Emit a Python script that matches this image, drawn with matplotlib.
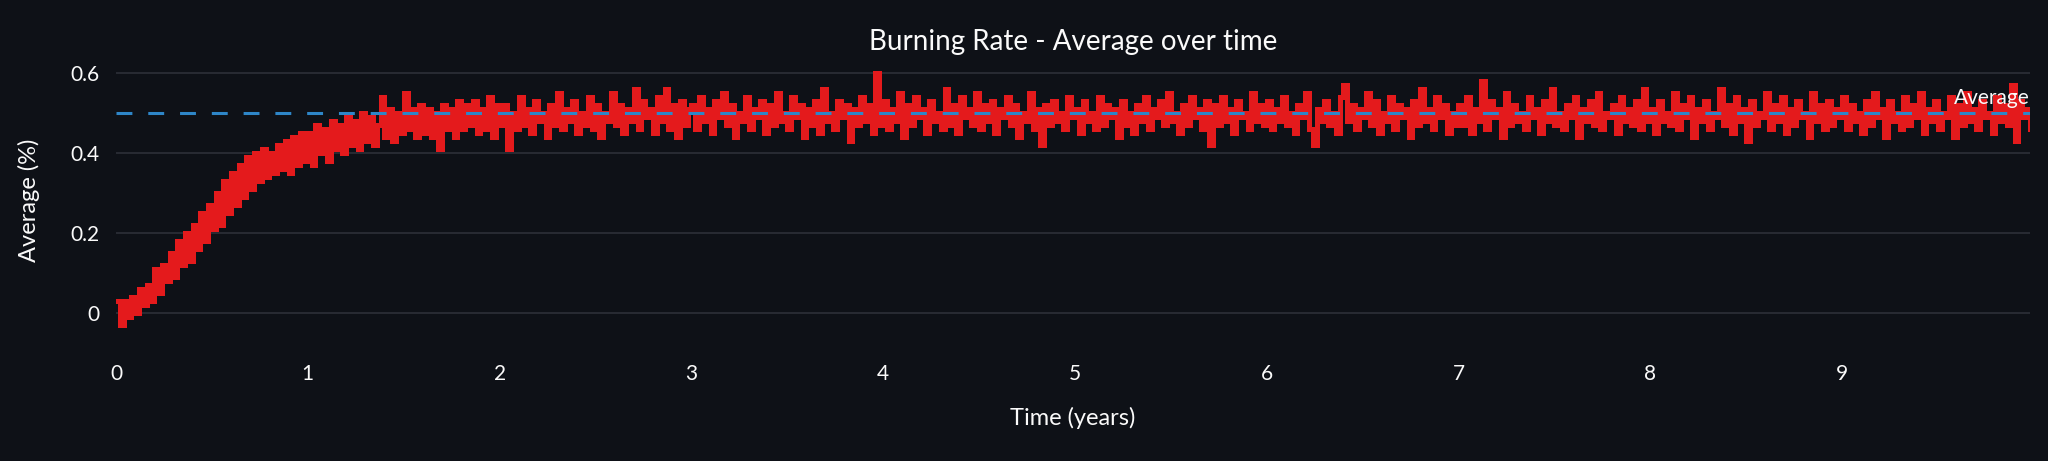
import numpy as np
import matplotlib
matplotlib.use("Agg")
import matplotlib.pyplot as plt

# ---------------------------------------------------------------------
# data: burning-rate average, one reading every 0.02 years
# ---------------------------------------------------------------------
STEP = 0.02

year0 = [0.03, -0.03, 0.03, -0.01, 0.04, 0.00, 0.06, 0.02, 0.07, 0.03,
         0.11, 0.05, 0.12, 0.08, 0.15, 0.09, 0.18, 0.12, 0.20, 0.13,
         0.22, 0.16, 0.25, 0.18, 0.27, 0.21, 0.30, 0.22, 0.33, 0.25,
         0.35, 0.27, 0.37, 0.29, 0.39, 0.31, 0.40, 0.33, 0.41, 0.34,
         0.40, 0.35, 0.42, 0.36, 0.43, 0.35, 0.44, 0.37, 0.45, 0.38]
year1 = [0.45, 0.37, 0.47, 0.40, 0.46, 0.38, 0.48, 0.41, 0.47, 0.40,
         0.49, 0.42, 0.48, 0.41, 0.50, 0.43, 0.49, 0.42, 0.47, 0.54,
         0.44, 0.51, 0.43, 0.50, 0.45, 0.55, 0.46, 0.51, 0.44, 0.52,
         0.45, 0.51, 0.44, 0.50, 0.41, 0.52, 0.46, 0.51, 0.44, 0.53,
         0.46, 0.52, 0.47, 0.53, 0.45, 0.51, 0.46, 0.54, 0.44, 0.52]
year2 = [0.47, 0.52, 0.41, 0.50, 0.46, 0.54, 0.47, 0.51, 0.45, 0.53,
         0.48, 0.50, 0.44, 0.52, 0.47, 0.55, 0.46, 0.51, 0.48, 0.53,
         0.45, 0.50, 0.47, 0.54, 0.46, 0.52, 0.44, 0.50, 0.48, 0.55,
         0.47, 0.52, 0.45, 0.51, 0.48, 0.56, 0.46, 0.53, 0.49, 0.51,
         0.45, 0.54, 0.48, 0.56, 0.46, 0.52, 0.44, 0.53, 0.47, 0.51]
year3 = [0.52, 0.46, 0.54, 0.48, 0.51, 0.45, 0.53, 0.49, 0.55, 0.47,
         0.52, 0.44, 0.50, 0.48, 0.54, 0.46, 0.51, 0.49, 0.53, 0.45,
         0.52, 0.47, 0.55, 0.48, 0.50, 0.46, 0.54, 0.49, 0.52, 0.44,
         0.51, 0.47, 0.53, 0.45, 0.56, 0.48, 0.50, 0.46, 0.53, 0.49,
         0.52, 0.43, 0.51, 0.47, 0.54, 0.48, 0.52, 0.45, 0.60, 0.47]
year4 = [0.53, 0.46, 0.51, 0.48, 0.55, 0.44, 0.52, 0.47, 0.54, 0.49,
         0.51, 0.45, 0.53, 0.48, 0.50, 0.46, 0.56, 0.47, 0.52, 0.45,
         0.54, 0.49, 0.51, 0.47, 0.55, 0.46, 0.52, 0.48, 0.53, 0.45,
         0.51, 0.49, 0.54, 0.47, 0.52, 0.44, 0.50, 0.48, 0.55, 0.46,
         0.51, 0.42, 0.52, 0.47, 0.53, 0.48, 0.50, 0.46, 0.54, 0.49]
year5 = [0.51, 0.45, 0.53, 0.48, 0.50, 0.46, 0.54, 0.47, 0.52, 0.49,
         0.51, 0.44, 0.53, 0.47, 0.50, 0.45, 0.52, 0.48, 0.54, 0.46,
         0.51, 0.49, 0.53, 0.47, 0.55, 0.48, 0.50, 0.45, 0.52, 0.47,
         0.54, 0.49, 0.51, 0.46, 0.53, 0.42, 0.52, 0.47, 0.54, 0.48,
         0.51, 0.45, 0.53, 0.49, 0.50, 0.46, 0.55, 0.48, 0.52, 0.47]
year6 = [0.53, 0.46, 0.51, 0.48, 0.54, 0.47, 0.50, 0.45, 0.52, 0.49,
         0.55, 0.46, 0.42, 0.51, 0.48, 0.53, 0.47, 0.50, 0.45, 0.54,
         0.57, 0.48, 0.52, 0.46, 0.51, 0.49, 0.55, 0.47, 0.53, 0.45,
         0.50, 0.48, 0.54, 0.46, 0.52, 0.49, 0.51, 0.44, 0.53, 0.47,
         0.56, 0.48, 0.51, 0.46, 0.54, 0.49, 0.52, 0.45, 0.50, 0.47]
year7 = [0.52, 0.47, 0.54, 0.45, 0.51, 0.48, 0.58, 0.46, 0.53, 0.49,
         0.51, 0.44, 0.55, 0.47, 0.52, 0.48, 0.50, 0.46, 0.54, 0.49,
         0.51, 0.45, 0.53, 0.48, 0.56, 0.47, 0.50, 0.46, 0.52, 0.49,
         0.54, 0.44, 0.51, 0.48, 0.53, 0.47, 0.55, 0.46, 0.50, 0.49,
         0.52, 0.45, 0.54, 0.48, 0.51, 0.47, 0.53, 0.46, 0.56, 0.48]
year8 = [0.51, 0.45, 0.53, 0.48, 0.50, 0.47, 0.55, 0.46, 0.52, 0.49,
         0.54, 0.44, 0.51, 0.48, 0.53, 0.46, 0.50, 0.49, 0.56, 0.47,
         0.52, 0.45, 0.54, 0.48, 0.51, 0.43, 0.53, 0.47, 0.50, 0.49,
         0.55, 0.46, 0.52, 0.48, 0.54, 0.45, 0.51, 0.47, 0.53, 0.49,
         0.50, 0.44, 0.55, 0.48, 0.52, 0.46, 0.53, 0.47, 0.51, 0.49]
year9 = [0.54, 0.46, 0.52, 0.48, 0.50, 0.45, 0.53, 0.47, 0.55, 0.49,
         0.51, 0.44, 0.53, 0.48, 0.50, 0.46, 0.54, 0.47, 0.52, 0.49,
         0.55, 0.45, 0.51, 0.48, 0.53, 0.46, 0.50, 0.49, 0.54, 0.44,
         0.52, 0.47, 0.55, 0.48, 0.51, 0.46, 0.53, 0.49, 0.50, 0.45,
         0.54, 0.48, 0.52, 0.47, 0.57, 0.43, 0.53, 0.49, 0.51, 0.46]

AVERAGE = 0.5
X_TICKS = [0, 1, 2, 3, 4, 5, 6, 7, 8, 9]
Y_TICKS = [0, 0.2, 0.4, 0.6]
Y_TICK_LABELS = ["0", "0.2", "0.4", "0.6"]

values = np.array(year0 + year1 + year2 + year3 + year4 +
                  year5 + year6 + year7 + year8 + year9)
times = np.arange(len(values)) * STEP

# ---------------------------------------------------------------------
# styling (streamlit dark look)
# ---------------------------------------------------------------------
BG = "#0e1117"
GRID = "#2a2d36"
TEXT = "#fafafa"
RED = "#e41a1c"
BLUE = "#2e86c8"

plt.rcParams["font.family"] = ["Lato", "DejaVu Sans"]

W, H = 2048, 461
fig = plt.figure(figsize=(W / 100, H / 100), dpi=100)
fig.patch.set_facecolor(BG)

# axes placed in pixels: x 116..2030, y 57..353
ax = fig.add_axes([116 / W, 1 - 353 / H, (2030 - 116) / W, (353 - 57) / H])
ax.set_facecolor(BG)

ax.plot(times, values, color=RED, linewidth=3.6, drawstyle="steps-post",
        solid_joinstyle="miter", zorder=3)
ax.axhline(AVERAGE, color=BLUE, linewidth=2.2, linestyle=(0, (5.2, 5.2)),
           zorder=4)
ax.text(times[-1], AVERAGE + 0.012, "Average", color=TEXT, fontsize=15,
        ha="right", va="bottom", zorder=5)

ax.set_xlim(0, times[-1])
ax.set_ylim(-0.1, 0.64)
ax.set_xticks(X_TICKS)
ax.set_xticklabels([str(t) for t in X_TICKS])
ax.set_yticks(Y_TICKS)
ax.set_yticklabels(Y_TICK_LABELS)
ax.grid(True, axis="y", color=GRID, linewidth=1.3, zorder=0)
ax.tick_params(axis="both", colors=TEXT, labelsize=15, length=0)
ax.tick_params(axis="y", pad=12)
ax.tick_params(axis="x", pad=8)
for spine in ax.spines.values():
    spine.set_visible(False)

fig.text(1073 / W, 1 - 42 / H, "Burning Rate - Average over time",
         color=TEXT, fontsize=20, ha="center", va="center")
fig.text(1073 / W, 1 - 418 / H, "Time (years)", color=TEXT, fontsize=17,
         ha="center", va="center")
fig.text(29 / W, 1 - 200 / H, "Average (%)", color=TEXT, fontsize=17,
         ha="center", va="center", rotation=90)

fig.savefig("out.png", dpi=100, facecolor=BG)
